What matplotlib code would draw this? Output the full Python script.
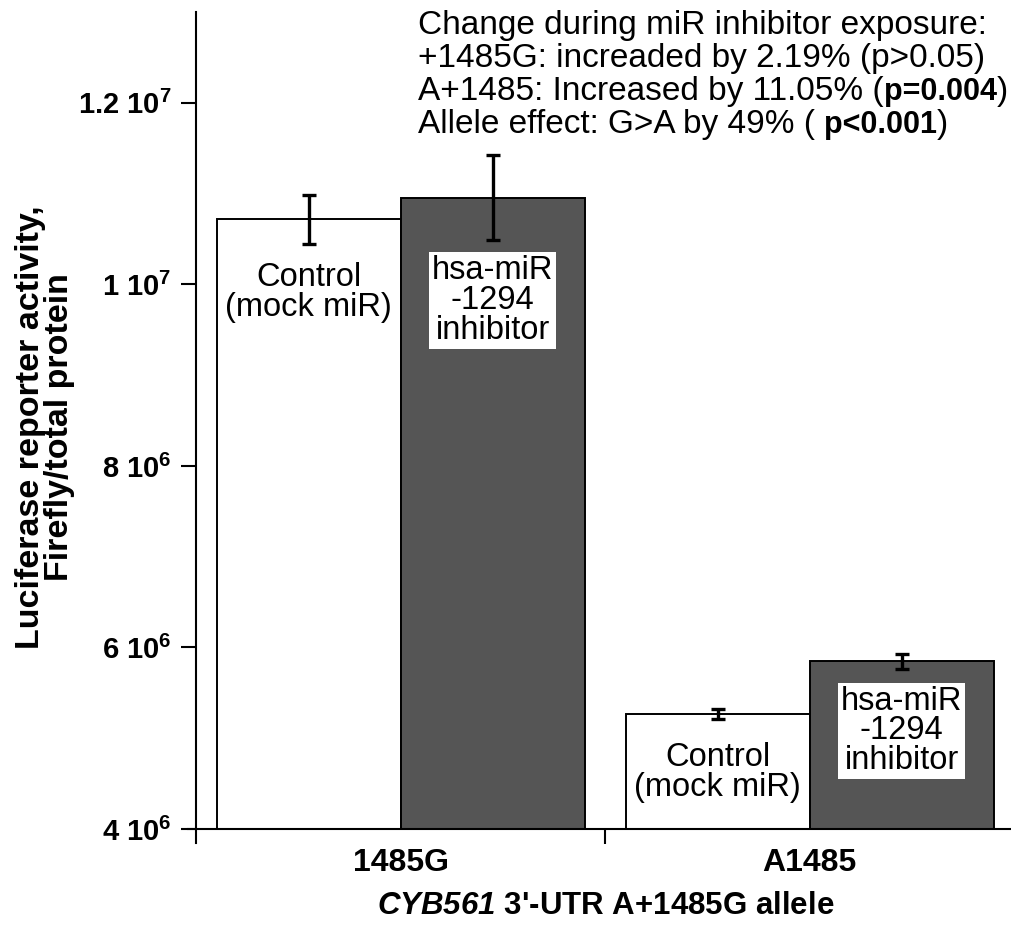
import matplotlib
matplotlib.use("Agg")
import matplotlib.pyplot as plt
import numpy as np

groups = ["1485G", "A1485"]
control = [1.072e7, 5.267e6]
control_err = [0.27e6, 0.055e6]
inhibitor = [1.0955e7, 5.849e6]
inhibitor_err = [0.468e6, 0.083e6]
yticks = [4e6, 6e6, 8e6, 1e7, 1.2e7]
ytick_labels = ["4 10$^6$", "6 10$^6$", "8 10$^6$", "1 10$^7$", "1.2 10$^7$"]
base = 4e6

notes = [
    ("Change during miR inhibitor exposure:", None, None),
    ("+1485G: increaded by 2.19% (p>0.05)", None, None),
    ("A+1485: Increased by 11.05% (", "p=0.004", ")"),
    ("Allele effect: G>A by 49% ( ", "p<0.001", ")"),
]

plt.rcParams["font.family"] = "Liberation Sans"
plt.rcParams["mathtext.default"] = "regular"
plt.rcParams["mathtext.fontset"] = "custom"
plt.rcParams["mathtext.it"] = "Liberation Sans:italic:bold"
plt.rcParams["mathtext.rm"] = "Liberation Sans:italic:bold"

fig = plt.figure(figsize=(10.12, 9.3), dpi=100)
ax = fig.add_axes([0.186, 0.094, 0.816, 0.893])

x = np.arange(len(groups))
w = 0.45
ax.bar(x - w / 2, np.array(control) - base, w, bottom=base, color="white",
       edgecolor="black", linewidth=1.4, zorder=2)
ax.bar(x + w / 2, np.array(inhibitor) - base, w, bottom=base, color="#555555",
       edgecolor="black", linewidth=1.4, zorder=2)
ax.errorbar(x - w / 2, control, yerr=control_err, fmt="none", ecolor="black",
            elinewidth=2.4, capsize=5, capthick=2.4, zorder=3)
ax.errorbar(x + w / 2, inhibitor, yerr=inhibitor_err, fmt="none", ecolor="black",
            elinewidth=2.4, capsize=5, capthick=2.4, zorder=3)

ax.set_xlim(-0.52, 1.5)
ax.set_ylim(3.85e6, 1.3e7)
for s in ["top", "right"]:
    ax.spines[s].set_visible(False)
ax.spines["left"].set_position(("data", -0.5))
ax.spines["bottom"].set_position(("data", base))
ax.spines["left"].set_linewidth(1.5)
ax.spines["bottom"].set_linewidth(1.5)

ax.set_xticks(x, groups)
ax.set_xticks([0.5], minor=True)
ax.tick_params(axis="x", which="major", length=0, pad=14, labelsize=23)
ax.tick_params(axis="x", which="minor", length=11, width=1.5)
for t in ax.get_xticklabels():
    t.set_fontweight("bold")

ax.set_yticks(yticks, ytick_labels)
ax.tick_params(axis="y", length=11, width=1.5, pad=7, labelsize=21)
for t in ax.get_yticklabels():
    t.set_fontweight("bold")

ax.set_ylabel("Luciferase reporter activity,\nFirefly/total protein",
              fontweight="bold", fontsize=24.5, linespacing=0.93)
ax.yaxis.set_label_coords(-0.137, 0.5)
ax.set_xlabel("$\\mathit{CYB561}$ 3'-UTR A+1485G allele", fontweight="bold",
              fontsize=22.5)
ax.xaxis.set_label_coords(0.505, -0.058)

# labels inside the bars
for xi, yc in zip(x, [9.91e6, 4.62e6]):
    ax.text(xi - w / 2, yc, "Control\n(mock miR)", ha="center", va="center",
            fontsize=23.5, linespacing=0.95, zorder=4)
for xi, yc in zip(x, [9.82e6, 5.08e6]):
    ax.text(xi + w / 2, yc, "hsa-miR\n-1294\ninhibitor", ha="center", va="center",
            fontsize=23.5, linespacing=0.95, zorder=4,
            bbox=dict(facecolor="white", edgecolor="none", pad=2))

# statistics summary, bold p-values appended after the plain text
for i, (plain, bold, tail) in enumerate(notes):
    t = fig.text(0.413, 0.9635 - i * 0.0355, plain, fontsize=24, va="baseline")
    if bold:
        b = ax.annotate(bold, xy=(1, 0), xycoords=t, va="bottom", ha="left",
                        fontsize=22, fontweight="bold")
        ax.annotate(tail, xy=(1, 0), xycoords=b, va="bottom", ha="left",
                    fontsize=24)

fig.savefig("out.png", dpi=100)
